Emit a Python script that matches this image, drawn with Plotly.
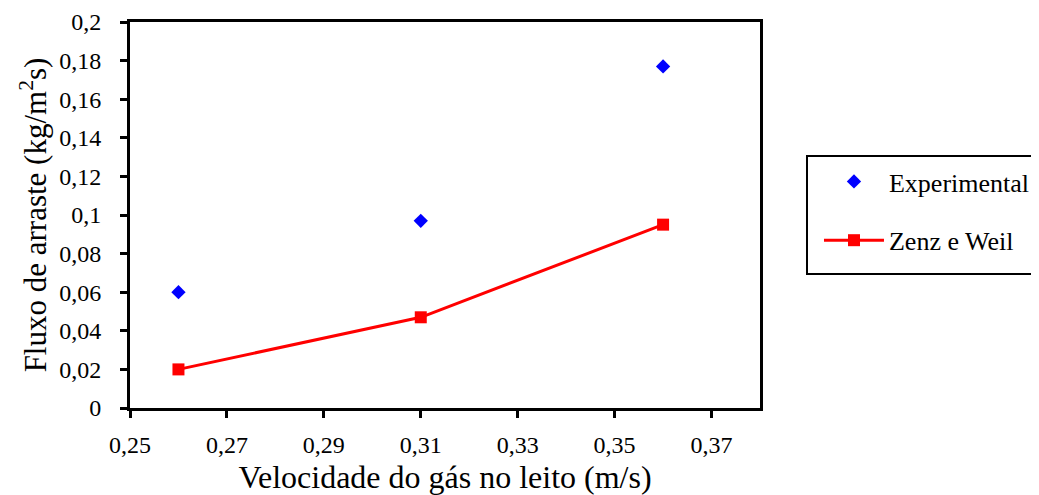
import plotly.graph_objects as go

velocidade = [0.26, 0.31, 0.36]
experimental = [0.060, 0.097, 0.177]
zenz_weil = [0.020, 0.047, 0.095]

x_tickvals = [0.25, 0.27, 0.29, 0.31, 0.33, 0.35, 0.37]
x_ticktext = ["0,25", "0,27", "0,29", "0,31", "0,33", "0,35", "0,37"]
y_tickvals = [0, 0.02, 0.04, 0.06, 0.08, 0.1, 0.12, 0.14, 0.16, 0.18, 0.2]
y_ticktext = ["0", "0,02", "0,04", "0,06", "0,08", "0,1", "0,12", "0,14", "0,16", "0,18", "0,2"]

FONT = "Liberation Serif"

fig = go.Figure()
fig.add_trace(go.Scatter(
    x=velocidade, y=experimental, mode="markers", name="Experimental",
    legendgroup="a",
    marker=dict(symbol="diamond", size=11, color="#0000FF"),
))
fig.add_trace(go.Scatter(
    x=velocidade, y=zenz_weil, mode="lines+markers", name="Zenz e Weil",
    legendgroup="b",
    line=dict(color="#FF0000", width=3),
    marker=dict(symbol="square", size=12, color="#FF0000"),
))

# legend frame (drawn as a shape so the entries can sit with extra left padding)
fig.add_shape(
    type="rect", xref="paper", yref="paper",
    x0=1.0746, x1=1.46, y0=0.347, y1=0.653,
    line=dict(color="black", width=2), fillcolor="rgba(0,0,0,0)", layer="above",
)

fig.update_layout(
    width=1031, height=487,
    margin=dict(l=122, r=279, t=14, b=87),
    paper_bgcolor="white", plot_bgcolor="white",
    font=dict(family=FONT, size=24, color="black"),
    showlegend=True,
    legend=dict(
        xref="container", yref="container",
        x=0.7866, y=0.692, xanchor="left", yanchor="top",
        borderwidth=0, bgcolor="rgba(0,0,0,0)",
        font=dict(family=FONT, size=26, color="black"),
        traceorder="grouped", tracegroupgap=22, itemwidth=60,
    ),
    xaxis=dict(
        range=[0.25, 0.38], tickvals=x_tickvals, ticktext=x_ticktext,
        showgrid=False, zeroline=False, automargin=False,
        showline=True, linecolor="black", linewidth=3, mirror=True,
        ticks="outside", ticklen=7, tickwidth=3, tickcolor="black",
        ticklabelstandoff=6,
        title=dict(text="Velocidade do gás no leito (m/s)", font=dict(size=32), standoff=16),
    ),
    yaxis=dict(
        range=[0, 0.2], tickvals=y_tickvals, ticktext=y_ticktext,
        showgrid=False, zeroline=False, automargin=False,
        showline=True, linecolor="black", linewidth=3, mirror=True,
        ticks="outside", ticklen=7, tickwidth=3, tickcolor="black",
        ticklabelstandoff=14,
        title=dict(text="Fluxo de arraste (kg/m<sup>2</sup>s)", font=dict(size=31), standoff=4),
    ),
)

fig.write_html("out.html")
